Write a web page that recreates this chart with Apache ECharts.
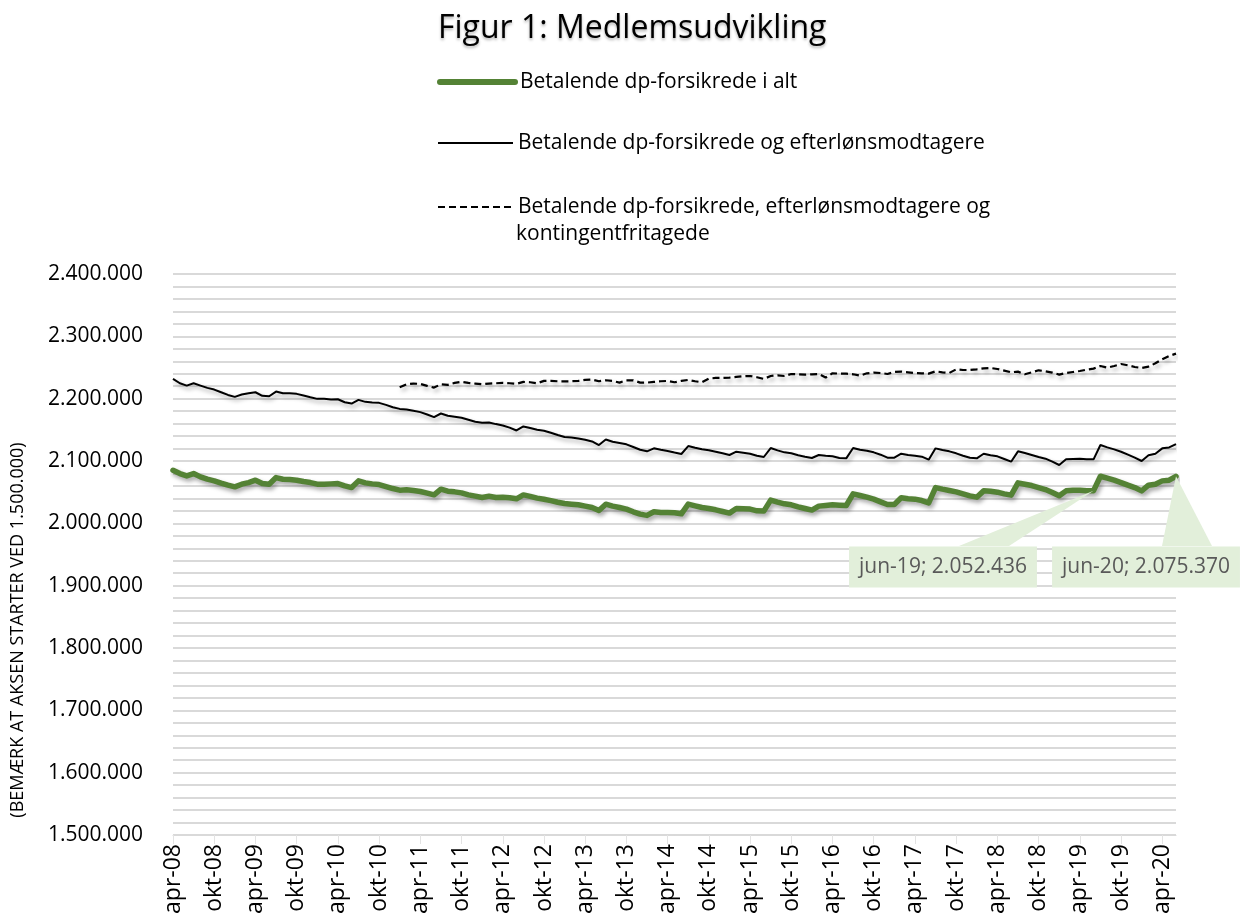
<!DOCTYPE html>
<html>
<head>
<meta charset="utf-8">
<title>Figur 1: Medlemsudvikling</title>
<script src="https://cdn.jsdelivr.net/npm/echarts@6/dist/echarts.min.js"></script>
<style>
  html, body { margin: 0; padding: 0; background: #fff; }
  #chart { width: 1240px; height: 922px; }
</style>
</head>
<body>
<div id="chart"></div>
<script>
// months apr-08 .. jun-20
const monthNames = ["jan", "feb", "mar", "apr", "maj", "jun", "jul", "aug", "sep", "okt", "nov", "dec"];
const categories = [];
for (let y = 2008; y <= 2020; y++) {
  for (let m = 0; m < 12; m++) {
    if (y === 2008 && m < 3) continue;
    if (y === 2020 && m > 5) break;
    categories.push(monthNames[m] + "-" + String(y).slice(2));
  }
}

const seriesNames = [
  "Betalende dp-forsikrede i alt",
  "Betalende dp-forsikrede og efterlønsmodtagere",
  "Betalende dp-forsikrede, efterlønsmodtagere og kontingentfritagede"
];

// Betalende dp-forsikrede i alt
const paying = [
  2085100, 2079800, 2076100, 2079800, 2074500, 2070800, 2068100, 2064400, 2061200,
  2058500, 2062800, 2065400, 2069200, 2063800, 2062800, 2073400, 2070800, 2070200, 2069200, 2067000, 2065400,
  2062800, 2062800, 2063300, 2063800, 2060100, 2057400, 2068100, 2064900, 2063300, 2062200, 2059000, 2055800,
  2053200, 2053700, 2052600, 2051000, 2048400, 2045700, 2054800, 2051600, 2050500, 2048900, 2045700, 2043600,
  2041400, 2043600, 2041400, 2042000, 2041000, 2039400, 2045600, 2043200, 2040400, 2038600, 2036500, 2033800,
  2031800, 2030700, 2029700, 2027600, 2025400, 2020600, 2030700, 2027600, 2025400, 2022800, 2018500, 2014800,
  2012700, 2018500, 2017400, 2017400, 2017000, 2015300, 2030800, 2028100, 2025400, 2023800, 2021700, 2019000,
  2016400, 2023800, 2023300, 2022800, 2020100, 2019600, 2037200, 2034000, 2031300, 2029700, 2026500, 2023800,
  2021200, 2027600, 2028600, 2029700, 2029200, 2028600, 2047300, 2044600, 2042000, 2038800, 2034500, 2030200,
  2030200, 2040900, 2039300, 2038800, 2036600, 2032900, 2057400, 2054800, 2052600, 2050500, 2047300, 2044100,
  2042000, 2052100, 2051600, 2050000, 2047300, 2045200, 2064900, 2062800, 2060600, 2057400, 2054200, 2049400,
  2044100, 2052100, 2053200, 2053200, 2052100, 2052436, 2075500, 2072400, 2069200, 2065400, 2061200, 2057400,
  2052100, 2061200, 2062800, 2068100, 2069200, 2075370
];

// Betalende dp-forsikrede og efterlønsmodtagere
const payingEarly = [
  2231700, 2224700, 2221000, 2224700, 2221000, 2217300, 2214600, 2210300, 2206000,
  2202900, 2206600, 2208700, 2210300, 2204500, 2203900, 2211400, 2208700, 2208700, 2207700, 2205000, 2202300,
  2199700, 2199700, 2198600, 2199100, 2194300, 2192200, 2198100, 2194900, 2193800, 2193300, 2190100, 2186300,
  2183600, 2182600, 2180500, 2178400, 2174600, 2170400, 2176200, 2172500, 2170900, 2169300, 2166100, 2162900,
  2161300, 2161800, 2159200, 2157000, 2153500, 2149000, 2155400, 2152800, 2150100, 2148500, 2145300, 2141600,
  2138400, 2137800, 2136200, 2134100, 2131400, 2125600, 2134600, 2130900, 2128800, 2126700, 2122400, 2118100,
  2115500, 2120300, 2118100, 2116000, 2113500, 2111200, 2124000, 2121300, 2118700, 2117100, 2114900, 2112300,
  2109600, 2114900, 2113300, 2111700, 2108500, 2106400, 2120800, 2117100, 2113900, 2112300, 2109100, 2106900,
  2104800, 2109600, 2108500, 2107500, 2104800, 2104300, 2120800, 2118100, 2116500, 2113900, 2110100, 2105300,
  2105300, 2111700, 2109600, 2108500, 2106900, 2102100, 2120300, 2117600, 2115500, 2112300, 2108500, 2105300,
  2104300, 2111700, 2109100, 2107500, 2103200, 2098900, 2115500, 2112800, 2109600, 2106400, 2103700, 2098900,
  2093600, 2102700, 2103200, 2103700, 2102700, 2102700, 2125600, 2121800, 2118700, 2114900, 2110100, 2105300,
  2100000, 2109100, 2111700, 2120300, 2121800, 2127200
];

// Betalende dp-forsikrede, efterlønsmodtagere og kontingentfritagede (from jan-11)
const payingAll = [
  null, null, null, null, null, null, null, null, null,
  null, null, null, null, null, null, null, null, null, null, null, null,
  null, null, null, null, null, null, null, null, null, null, null, null,
  2218300, 2223100, 2224200, 2223700, 2220500, 2217800, 2223100, 2222100, 2225300, 2226900, 2225300, 2224200,
  2223100, 2224200, 2224700, 2225300, 2224700, 2223700, 2226900, 2226300, 2224700, 2228500, 2228500, 2227900,
  2227900, 2227900, 2228500, 2230100, 2230600, 2227900, 2229500, 2228500, 2225800, 2229500, 2229500, 2225800,
  2225800, 2226900, 2227900, 2228500, 2226300, 2228500, 2230100, 2227900, 2226300, 2232200, 2233300, 2233300,
  2233800, 2234900, 2235900, 2236400, 2234300, 2231700, 2236400, 2237500, 2236400, 2239600, 2239100, 2238600,
  2239100, 2239600, 2233800, 2240700, 2240200, 2240200, 2239100, 2237000, 2240700, 2241800, 2241200, 2239600,
  2242800, 2243400, 2242300, 2241200, 2240700, 2240200, 2243900, 2242300, 2241200, 2247100, 2246000, 2246000,
  2247100, 2248700, 2249200, 2247600, 2245000, 2242300, 2243400, 2239100, 2242300, 2245500, 2243900, 2241800,
  2238600, 2241200, 2242800, 2244400, 2246600, 2248200, 2252400, 2249800, 2252400, 2255600, 2253500, 2250800,
  2249200, 2251400, 2256700, 2263100, 2268400, 2272200
];

// data labels shown on the green line (jun-19, jun-20)
const calloutIdx = [134, 146];
const calloutBox = [[943, 567], [1146, 567]];

const font = "Open Sans";
const lightGreen = "#E2EFDA";

function dots(n) {
  return String(Math.round(n)).replace(/\B(?=(\d{3})+(?!\d))/g, ".");
}

const shadow = { shadowColor: "rgba(0,0,0,0.35)", shadowBlur: 4, shadowOffsetX: 2, shadowOffsetY: 3 };

const chart = echarts.init(document.getElementById("chart"));
chart.setOption({
  animation: false,
  backgroundColor: "#fff",
  textStyle: { fontFamily: font },
  title: {
    text: "Figur 1: Medlemsudvikling",
    left: 438,
    top: 13,
    padding: 0,
    textStyle: {
      fontFamily: font, fontSize: 32, fontWeight: "normal", color: "#000",
      textShadowColor: "rgba(0,0,0,0.3)", textShadowBlur: 3, textShadowOffsetY: 2
    }
  },
  legend: [0, 1, 2].map(k => ({
    data: [seriesNames[k]],
    orient: "vertical",
    left: 437,
    top: [70, 131, 195][k],
    padding: 0,
    itemWidth: 75,
    itemHeight: 14,
    itemGap: 3,
    itemStyle: { opacity: 0, borderWidth: 0 },
    lineStyle: {
      width: k === 0 ? 6 : 2, cap: k === 0 ? "round" : "butt",
      type: k === 2 ? [7, 4] : "solid",
      shadowBlur: 0, shadowOffsetX: 0, shadowOffsetY: 0, shadowColor: "rgba(0,0,0,0)"
    },
    textStyle: { fontFamily: font, fontSize: 21, color: "#000", lineHeight: 24 },
    formatter: k === 2 ? () => "Betalende dp-forsikrede, efterlønsmodtagere og" : undefined
  })),
  grid: { left: 173, right: 64, top: 274, bottom: 87 },
  xAxis: {
    type: "category",
    data: categories,
    boundaryGap: false,
    axisLine: { show: true, lineStyle: { color: "#d9d9d9", width: 1 } },
    axisTick: { show: true, interval: 5, length: 9, lineStyle: { color: "#e3e3e3" } },
    axisLabel: { interval: 5, rotate: 90, fontSize: 23, color: "#000", margin: 9, fontFamily: font },
    splitLine: { show: false }
  },
  yAxis: {
    type: "value",
    min: 1500000,
    max: 2400000,
    interval: 100000,
    axisLine: { show: false },
    axisTick: { show: false },
    axisLabel: { fontSize: 21, color: "#000", margin: 30, fontFamily: font, formatter: v => dots(v) },
    splitLine: { lineStyle: { color: "#d9d9d9", width: 2 } },
    minorTick: { show: false, splitNumber: 5 },
    minorSplitLine: { show: true, lineStyle: { color: "#d9d9d9", width: 2 } }
  },
  series: [
    {
      name: seriesNames[0],
      type: "line",
      data: paying,
      symbol: "none",
      z: 4,
      lineStyle: Object.assign({ color: "#548235", width: 5.5, cap: "round", join: "round" }, shadow),
      itemStyle: { color: "#548235" }
    },
    {
      name: seriesNames[1],
      type: "line",
      data: payingEarly,
      symbol: "none",
      z: 3,
      lineStyle: Object.assign({ color: "#000", width: 2 }, shadow),
      itemStyle: { color: "#000" }
    },
    {
      name: seriesNames[2],
      type: "line",
      data: payingAll,
      symbol: "none",
      z: 3,
      lineStyle: Object.assign({ color: "#000", width: 2.2, type: [7, 4] }, shadow),
      itemStyle: { color: "#000" }
    }
  ]
});

// callout labels + wedges placed from the data point pixels
const wedges = [];
const mpData = calloutIdx.map((i, k) => {
  const p = chart.convertToPixel({ gridIndex: 0 }, [i, paying[i]]);
  const c = calloutBox[k];
  wedges.push({
    type: "polygon",
    z: 50,
    shape: { points: [[p[0], p[1]], [c[0] + 16, c[1] - 21], [c[0] + 66, c[1] - 21]] },
    style: { fill: lightGreen }
  });
  return {
    coord: [i, paying[i]],
    value: paying[i],
    label: { offset: [c[0] - p[0], c[1] - p[1]], formatter: categories[i] + "; " + dots(paying[i]) }
  };
});

chart.setOption({
  series: [{
    markPoint: {
      symbol: "circle",
      symbolSize: 1,
      itemStyle: { color: "rgba(0,0,0,0)" },
      z: 60,
      label: {
        show: true, position: "inside", backgroundColor: lightGreen, color: "#595959",
        fontSize: 21, fontFamily: font, padding: [10, 10]
      },
      data: mpData
    }
  }],
  graphic: wedges.concat([
    {
      type: "text",
      left: 516,
      top: 224,
      style: { text: "kontingentfritagede", font: "21px 'Open Sans'", fill: "#000" }
    },
    {
      type: "text",
      x: 18,
      y: 630,
      rotation: Math.PI / 2,
      style: {
        text: "(BEMÆRK AT AKSEN STARTER VED 1.500.000)", font: "18px 'Open Sans'", fill: "#000",
        align: "center", verticalAlign: "middle"
      }
    }
  ])
});
</script>
</body>
</html>
